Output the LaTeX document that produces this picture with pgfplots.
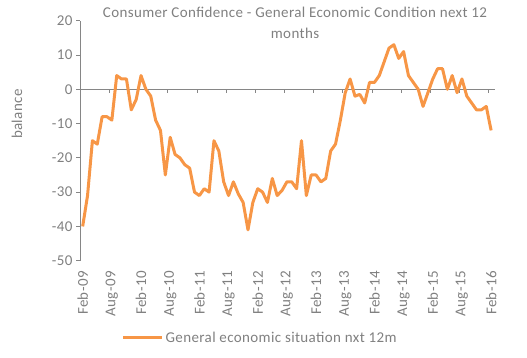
\documentclass[border=0pt]{standalone}
\usepackage{fontspec}
\setmainfont{Carlito}[LetterSpace=2.5]
\usepackage{pgfplots}
\usepackage{pgfplotstable}
\pgfplotsset{compat=1.18}
\definecolor{txt}{RGB}{128,128,128}
\definecolor{axl}{RGB}{134,134,134}
\definecolor{ora}{RGB}{247,150,70}
\pgfplotstableread{
i v
0 -40
1 -31
2 -15
3 -16
4 -8
5 -8
6 -9
7 4
8 3
9 3
10 -6
11 -3
12 4
13 0
14 -2
15 -9
16 -12
17 -25
18 -14
19 -19
20 -20
21 -22
22 -23
23 -30
24 -31
25 -29
26 -30
27 -15
28 -18
29 -27
30 -31
31 -27
32 -30.5
33 -33
34 -41
35 -33
36 -29
37 -30
38 -33
39 -26
40 -31
41 -29.5
42 -27
43 -27
44 -29
45 -15
46 -31
47 -25
48 -25
49 -27
50 -26
51 -18
52 -16
53 -9
54 -1
55 3
56 -2
57 -1.5
58 -4
59 2
60 2
61 4
62 8
63 12
64 13
65 9
66 11
67 4
68 2
69 0
70 -5
71 -1
72 3
73 6
74 6
75 0
76 4
77 -1
78 3
79 -2
80 -4
81 -6
82 -6
83 -5
84 -12
}\datatable
\begin{document}
\begin{tikzpicture}
\useasboundingbox (0,0) rectangle (527pt,357pt);
\begin{axis}[
  at={(80pt,96.3pt)}, anchor=south west,
  scale only axis, width=415pt, height=240pt,
  xmin=-0.55, xmax=84.8, ymin=-50, ymax=20,
  axis y line=left, axis x line=bottom,
  x axis line style={draw=none},
  y axis line style={axl, line width=0.75pt, -},
  ytick={-50,-40,...,20},
  xtick={0,6,...,84},
  xticklabels={Feb-09,Aug-09,Feb-10,Aug-10,Feb-11,Aug-11,Feb-12,Aug-12,Feb-13,Aug-13,Feb-14,Aug-14,Feb-15,Aug-15,Feb-16},
  xticklabel style={rotate=90, anchor=east, xshift=-3pt},
  x tick style={draw=none},
  y tick style={axl, line width=0.75pt},
  tick align=outside,
  major tick length=4pt,
  tick label style={font=\fontsize{15}{17}\selectfont, text=txt},
  /pgf/number format/assume math mode=true,
  legend style={at={(0.434,-0.322)}, anchor=center, draw=none, fill=none,
    font=\fontsize{15}{17}\selectfont, text=txt},
  legend image code/.code={\draw[#1] (0pt,0pt) -- (39pt,0pt);},
]
\draw[axl, line width=0.75pt] (axis cs:-0.55,0) -- (axis cs:84.8,0);
\pgfplotsinvokeforeach{6,12,...,84}{\draw[axl, line width=0.75pt] (axis cs:#1-0.5,0) -- ++(0pt,-4pt);}
\addplot[ora, line width=3pt, line join=round] table[x=i, y=v] {\datatable};
\addlegendentry{General economic situation nxt 12m}
\end{axis}
\node[rotate=90, font=\fontsize{15}{17}\selectfont, text=txt] at (17pt,243pt) {balance};
\node[align=center, font=\fontsize{15}{21}\selectfont, text=txt] at (295pt,334.5pt) {Consumer Confidence - General Economic Condition next 12\\months};
\end{tikzpicture}
\end{document}
